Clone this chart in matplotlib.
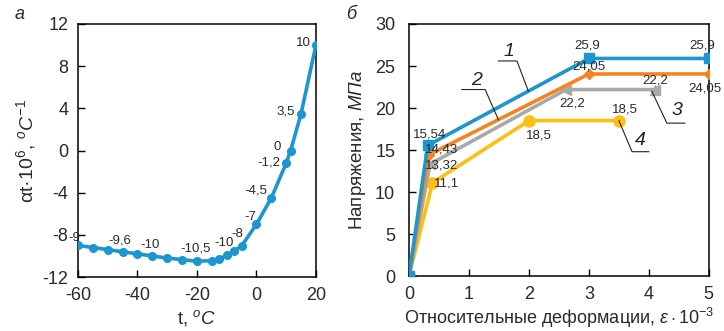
import matplotlib
matplotlib.use("Agg")
import matplotlib.pyplot as plt

plt.rcParams["font.family"] = ["Liberation Sans", "DejaVu Sans"]
plt.rcParams["mathtext.fontset"] = "custom"
plt.rcParams["mathtext.rm"] = "Liberation Sans"
plt.rcParams["mathtext.it"] = "Liberation Sans:italic"
plt.rcParams["axes.unicode_minus"] = False

# --- panel a: thermal expansion coefficient vs temperature ---
t_vals = [-60, -55, -50, -45, -40, -35, -30, -25, -20, -15, -12.5, -10,
          -7.5, -5, 0, 5, 10, 11.5, 15, 20]
alpha_vals = [-9, -9.2, -9.4, -9.6, -9.8, -10, -10.2, -10.35, -10.5, -10.45,
              -10.3, -9.95, -9.55, -9.05, -7, -4.5, -1.2, 0, 3.5, 10]
# value labels as printed on the chart, with their positions
alpha_label_text = ["-9", "-9,6", "-10", "-10,5", "-10", "-8", "-7", "-4,5",
                    "-1,2", "0", "3,5", "10"]
alpha_label_x = [-61.1, -45.8, -35.8, -20.4, -11.0, -6.5, -2.0, -0.1, 4.1,
                 7.1, 9.9, 15.8]
alpha_label_y = [-8.25, -8.5, -9.0, -9.3, -8.76, -7.87, -6.29, -3.75, -1.14,
                 0.38, 3.71, 10.16]

# --- panel b: stress vs relative strain ---
eps1 = [0, 0.31, 3.0, 5.0]
sig1 = [0, 15.54, 25.9, 25.9]
eps2 = [0, 0.33, 3.0, 5.0]
sig2 = [0, 14.43, 24.05, 24.05]
eps3 = [0, 0.35, 2.62, 4.1]
sig3 = [0, 13.32, 22.2, 22.2]
eps4 = [0, 0.39, 2.0, 3.5]
sig4 = [0, 11.1, 18.5, 18.5]

stress_label_text = ["15,54", "14,43", "13,32", "11,1", "25,9", "25,9",
                     "24,05", "24,05", "22,2", "22,2", "18,5", "18,5"]
stress_label_x = [0.35, 0.55, 0.55, 0.63, 2.97, 4.89, 3.0, 4.94, 2.72, 4.1,
                  2.16, 3.6]
stress_label_y = [16.9, 15.1, 13.2, 11.05, 27.5, 27.5, 24.9, 22.3, 20.5,
                  23.3, 16.7, 19.8]

BLUE = "#1c96d0"
ORANGE = "#f58322"
GRAY = "#a9a9a7"
YELLOW = "#fdbf12"
TXT = "#2a2a2a"

fig = plt.figure(figsize=(7.24, 3.31), dpi=100)
ax1 = fig.add_axes([0.1077, 0.163, 0.3287, 0.7645])
ax2 = fig.add_axes([0.565, 0.166, 0.414, 0.7615])

for ax in (ax1, ax2):
    ax.tick_params(direction="in", length=5, width=1, labelsize=13,
                   labelcolor=TXT)
    ax.tick_params(axis="x", pad=7)
    for s in ax.spines.values():
        s.set_linewidth(1.1)
ax1.tick_params(axis="y", pad=7)
ax2.tick_params(axis="y", pad=10)

# panel a
ax1.plot(t_vals, alpha_vals, "-o", color=BLUE, lw=2.6, ms=5.5, zorder=3)
for lab, x, y in zip(alpha_label_text, alpha_label_x, alpha_label_y):
    ax1.text(x, y, lab, fontsize=9.5, color=TXT, ha="center", va="center",
             clip_on=False)
ax1.set_xlim(-60, 20)
ax1.set_ylim(-12, 12)
ax1.set_xticks([-60, -40, -20, 0, 20])
ax1.set_yticks([-12, -8, -4, 0, 4, 8, 12])
ax1.set_xlabel(r"t, $^{\mathit{o}}\mathit{C}$", fontsize=13.5, labelpad=3,
               color=TXT)
ax1.set_ylabel(r"αt·10$^{6}$, $^{\mathit{o}}\mathit{C}^{\mathit{-1}}$",
               fontsize=14, labelpad=3, color=TXT)
fig.text(0.02, 0.955, "а", fontsize=13, style="italic", ha="left",
         va="center", color=TXT)

# panel b
ax2.plot(eps1, sig1, "-s", color=BLUE, lw=2.6, ms=7, zorder=5)
ax2.plot(eps2, sig2, "-D", color=ORANGE, lw=2.6, ms=5, zorder=4)
ax2.plot(eps3, sig3, "-<", color=GRAY, lw=2.6, ms=7, zorder=3)
ax2.plot(eps3[-1:], sig3[-1:], "^", color=GRAY, ms=7, zorder=3)
ax2.plot(eps4, sig4, "-o", color=YELLOW, lw=2.6, ms=8, zorder=2)

for lab, x, y in zip(stress_label_text, stress_label_x, stress_label_y):
    ax2.text(x, y, lab, fontsize=9.5, color=TXT, ha="center", va="center",
             clip_on=False, zorder=6)

# curve numbers with leader lines
curve_tags = [
    ("1", (1.66, 26.7), [(1.49, 1.80, 1.99), (25.6, 25.6, 22.0)]),
    ("2", (1.13, 23.3), [(0.88, 1.27, 1.49), (22.2, 22.2, 18.6)]),
    ("3", (4.47, 19.7), [(4.6, 4.3, 4.05), (18.2, 18.2, 22.0)]),
    ("4", (3.86, 16.1), [(4.0, 3.72, 3.5), (14.8, 14.8, 18.5)]),
]
for tag, (tx, ty), (lx, ly) in curve_tags:
    ax2.plot(lx, ly, color="#222222", lw=0.8, zorder=6)
    ax2.text(tx, ty, tag, fontsize=14, style="italic", ha="center",
             va="center", color="#222222")

ax2.set_xlim(0, 5)
ax2.set_ylim(0, 30)
ax2.set_xticks(range(0, 6))
ax2.set_yticks(range(0, 31, 5))
ax2.set_xlabel(r"Относительные деформации, $\mathit{\varepsilon}\cdot\mathit{10^{-3}}$",
               fontsize=13, labelpad=2, color=TXT)
ax2.set_ylabel(r"Напряжения, $\mathit{МПа}$", fontsize=13.5, labelpad=5,
               color=TXT)
fig.text(0.478, 0.955, "б", fontsize=13, style="italic", ha="left",
         va="center", color=TXT)

fig.savefig("out.png", dpi=100)
